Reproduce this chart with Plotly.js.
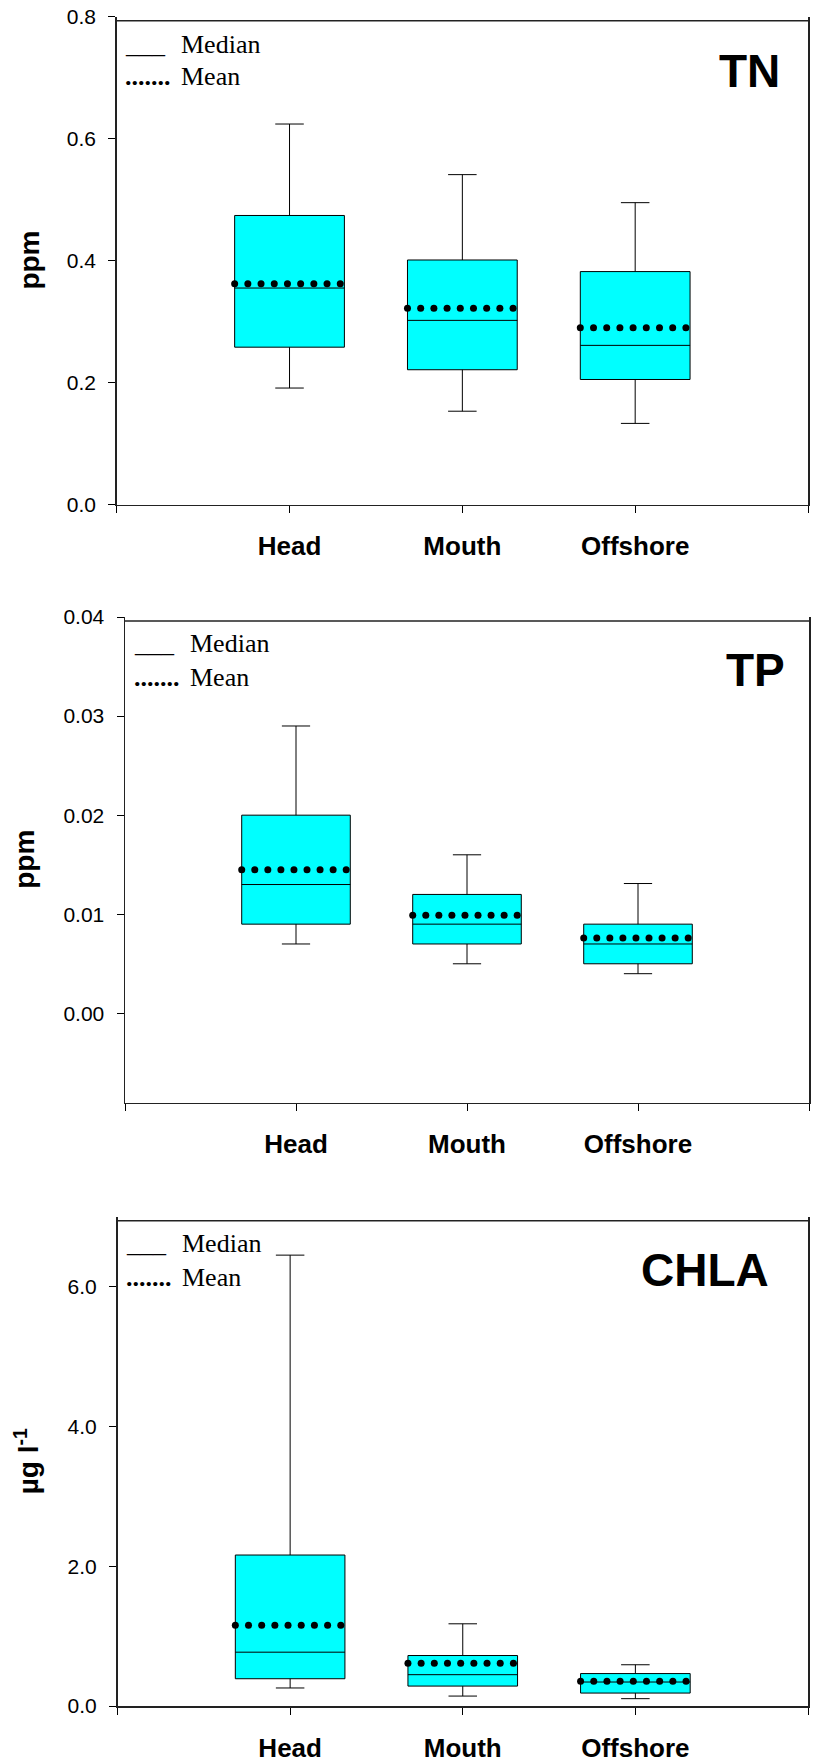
<!DOCTYPE html>
<html>
<head>
<meta charset="utf-8">
<script src="https://cdn.plot.ly/plotly-3.0.1.min.js"></script>
<style>html,body{margin:0;padding:0;background:#fff;}#chart{width:817px;height:1764px;}</style>
</head>
<body>
<div id="chart"></div>
<script>
// ---------- data ----------
const categories = ['Head', 'Mouth', 'Offshore'];
const panelLabels = ['TN', 'TP', 'CHLA'];
const yTitles = ['ppm', 'ppm', 'µg l<sup>-1</sup>'];
const legendLabels = ['Median', 'Mean'];

// TN (ppm)
const tnLower  = [0.191, 0.153, 0.133];
const tnQ1     = [0.258, 0.221, 0.205];
const tnMedian = [0.355, 0.302, 0.261];
const tnQ3     = [0.474, 0.401, 0.382];
const tnUpper  = [0.624, 0.541, 0.495];
const tnMean   = [0.362, 0.322, 0.290];

// TP (ppm)
const tpLower  = [0.007, 0.005, 0.004];
const tpQ1     = [0.009, 0.007, 0.005];
const tpMedian = [0.013, 0.009, 0.007];
const tpQ3     = [0.020, 0.012, 0.009];
const tpUpper  = [0.029, 0.016, 0.0131];
const tpMean   = [0.0145, 0.0099, 0.0076];

// CHLA (ug/l)
const chLower  = [0.258, 0.142, 0.105];
const chQ1     = [0.390, 0.285, 0.185];
const chMedian = [0.770, 0.448, 0.343];
const chQ3     = [2.160, 0.722, 0.464];
const chUpper  = [6.450, 1.176, 0.590];
const chMean   = [1.154, 0.611, 0.353];

// ---------- layout geometry (pixels) ----------
const W = 817, H = 1764;
const panels = [
  {lower: tnLower, q1: tnQ1, med: tnMedian, q3: tnQ3, upper: tnUpper, mean: tnMean,
   left: 116.7, right: 808, top: 16.7, bottom: 504.5, range: [0, 0.8], dtick: 0.2, fmt: '.1f',
   titleX: 30, legX: 123, legTextX: 179, medBase: 53, meanBase: 85, labRight: 782, labBase: 87},
  {lower: tpLower, q1: tpQ1, med: tpMedian, q3: tpQ3, upper: tpUpper, mean: tpMean,
   left: 125, right: 809, top: 617, bottom: 1102.5, range: [-0.009, 0.04], dtick: 0.01, fmt: '.2f',
   titleX: 25, legX: 132, legTextX: 188, medBase: 652, meanBase: 686, labRight: 787, labBase: 686},
  {lower: chLower, q1: chQ1, med: chMedian, q3: chQ3, upper: chUpper, mean: chMean,
   left: 117.5, right: 808, top: 1216.7, bottom: 1706, range: [0, 7], dtick: 2, fmt: '.1f',
   titleX: 27, legX: 124, legTextX: 180, medBase: 1252, meanBase: 1286, labRight: 771, labBase: 1286}
];

const boxWidth = 0.635;
const nDots = 9;
const positions = categories.map((c, i) => i + 1);

const traces = [];
const layout = {
  width: W, height: H,
  margin: {l: 0, r: 0, t: 0, b: 0},
  paper_bgcolor: '#fff', plot_bgcolor: '#fff',
  showlegend: false,
  annotations: [],
  shapes: [],
  font: {family: 'Liberation Sans, Arial, sans-serif', color: '#000'}
};

const px2x = v => v / W;
const px2y = v => 1 - v / H;

panels.forEach((p, k) => {
  const sfx = k === 0 ? '' : String(k + 1);
  const xa = 'x' + sfx, ya = 'y' + sfx;

  traces.push({
    type: 'box', xaxis: xa, yaxis: ya,
    x: positions,
    q1: p.q1, median: p.med, q3: p.q3,
    lowerfence: p.lower, upperfence: p.upper,
    width: boxWidth, whiskerwidth: 0.26,
    fillcolor: '#00FFFF',
    line: {color: '#000', width: 1},
    boxpoints: false, hoverinfo: 'skip'
  });

  // mean shown as a dotted row of markers across each box
  const mx = [], my = [];
  positions.forEach((pos, i) => {
    for (let d = 0; d < nDots; d++) {
      mx.push(pos - boxWidth / 2 + d * (boxWidth - 0.024) / (nDots - 1));
      my.push(p.mean[i]);
    }
  });
  traces.push({
    type: 'scatter', mode: 'markers', xaxis: xa, yaxis: ya,
    x: mx, y: my,
    marker: {size: 7, color: '#000'}, hoverinfo: 'skip'
  });

  const xname = 'xaxis' + sfx, yname = 'yaxis' + sfx;
  layout[xname] = {
    domain: [px2x(p.left), px2x(p.right)],
    anchor: ya, range: [0, 4],
    tickmode: 'array', tickvals: positions, ticktext: categories,
    ticks: 'outside', ticklen: 7, tickwidth: 1, tickcolor: '#000',
    minor: {tickmode: 'array', tickvals: [0, 4], ticks: 'outside', ticklen: 7, tickwidth: 1, tickcolor: '#000', showgrid: false},
    showline: true, linecolor: '#222', linewidth: 1.5,
    showgrid: false, zeroline: false, mirror: false,
    ticklabelstandoff: 11,
    tickfont: {family: 'Liberation Sans, Arial, sans-serif', size: 26, color: '#000', weight: 'bold'}
  };
  layout[yname] = {
    domain: [px2y(p.bottom), px2y(p.top)],
    anchor: xa, range: p.range,
    tick0: 0, dtick: p.dtick, tickformat: p.fmt,
    ticks: 'outside', ticklen: 7, tickwidth: 1, tickcolor: '#000',
    showline: true, linecolor: '#222', linewidth: 1.5, mirror: true,
    showgrid: false, zeroline: false,
    ticklabelstandoff: 8,
    tickfont: {family: 'Liberation Sans, Arial, sans-serif', size: 21, color: '#000'}
  };

  // top frame, drawn just below the top of the axis
  layout.shapes.push({
    type: 'line', xref: xa + ' domain', yref: ya + ' domain',
    x0: 0, x1: 1, y0: 1 - 4 / (p.bottom - p.top), y1: 1 - 4 / (p.bottom - p.top),
    line: {color: '#222', width: 1.5}
  });

  // y title
  layout.annotations.push({
    xref: 'paper', yref: 'paper', x: px2x(p.titleX), y: px2y((p.top + p.bottom) / 2),
    xanchor: 'center', yanchor: 'middle', textangle: -90, showarrow: false,
    text: '<b>' + yTitles[k] + '</b>',
    font: {family: 'Liberation Sans, Arial, sans-serif', size: 28, color: '#000'}
  });

  // panel label
  layout.annotations.push({
    xref: 'paper', yref: 'paper', x: px2x(p.labRight), y: px2y(p.labBase - 15.9),
    xanchor: 'right', yanchor: 'middle', showarrow: false,
    text: '<b>' + panelLabels[k] + '</b>',
    font: {family: 'Liberation Sans, Arial, sans-serif', size: 46, color: '#000'}
  });

  // text legend
  const serif = {family: 'Liberation Serif, Times New Roman, serif', size: 26, color: '#000'};
  layout.annotations.push({
    xref: 'paper', yref: 'paper', x: px2x(p.legX), y: px2y(p.medBase - 8.8),
    xanchor: 'left', yanchor: 'middle', showarrow: false, text: '___', font: serif
  });
  layout.annotations.push({
    xref: 'paper', yref: 'paper', x: px2x(p.legTextX), y: px2y(p.medBase - 8.8),
    xanchor: 'left', yanchor: 'middle', showarrow: false, text: legendLabels[0], font: serif
  });
  layout.annotations.push({
    xref: 'paper', yref: 'paper', x: px2x(p.legX), y: px2y(p.meanBase - 8.8),
    xanchor: 'left', yanchor: 'middle', showarrow: false, text: '<b>.......</b>', font: serif
  });
  layout.annotations.push({
    xref: 'paper', yref: 'paper', x: px2x(p.legTextX), y: px2y(p.meanBase - 8.8),
    xanchor: 'left', yanchor: 'middle', showarrow: false, text: legendLabels[1], font: serif
  });
});

Plotly.newPlot('chart', traces, layout, {staticPlot: true, displayModeBar: false});
</script>
</body>
</html>
